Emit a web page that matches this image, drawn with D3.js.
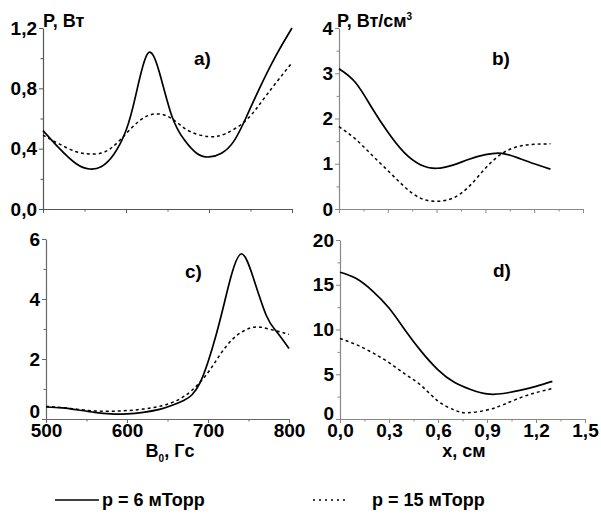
<!DOCTYPE html>
<html><head><meta charset="utf-8">
<script src="https://cdn.jsdelivr.net/npm/d3@7"></script>
<style>
body{margin:0;background:#fff}
svg text{font-family:"Liberation Sans",Arial,sans-serif;font-weight:bold;fill:#000}
</style>
</head><body><svg id="c" width="601" height="517"></svg>
<script>
// ---- Panel a: P (Вт) vs B0 (Гс)
const aSolidB = [500,520,540,556,570,585,600,612,626,640,655,670,685,700,715,730,745,760,780,800];
const aSolidP = [0.52,0.40,0.30,0.265,0.28,0.36,0.52,0.76,1.03,0.91,0.62,0.46,0.37,0.345,0.37,0.45,0.61,0.79,1.01,1.2];
const aDashB = [500,520,540,556,575,595,615,635,655,675,700,720,745,770,800];
const aDashP = [0.49,0.43,0.38,0.365,0.38,0.47,0.58,0.63,0.60,0.52,0.48,0.50,0.59,0.76,0.97];
// ---- Panel b: P (Вт/см3) vs x (см)
const bX = [0,0.1,0.2,0.3,0.4,0.5,0.6,0.7,0.8,0.9,1.0,1.1,1.2,1.3];
const bSolid = [3.1,2.8,2.25,1.7,1.25,0.98,0.90,0.97,1.10,1.20,1.23,1.13,1.0,0.88];
const bDash  = [1.82,1.55,1.2,0.85,0.50,0.24,0.17,0.24,0.50,0.90,1.22,1.38,1.43,1.44];
// ---- Panel c: P vs B0
const cSolidB = [500,520,540,560,580,600,620,640,655,670,680,690,700,710,720,730,742,756,772,785,800];
const cSolidP = [0.40,0.37,0.30,0.22,0.17,0.17,0.22,0.32,0.45,0.62,0.8,1.2,1.9,2.8,3.85,4.9,5.5,4.7,3.45,2.9,2.35];
const cDashB = [500,520,540,560,580,600,620,640,660,680,700,715,730,745,760,775,790,800];
const cDashP = [0.42,0.38,0.32,0.27,0.26,0.28,0.33,0.42,0.6,0.95,1.55,2.15,2.65,2.95,3.07,3.0,2.9,2.82];
// ---- Panel d: P vs x
const dSolidX = [0,0.1,0.2,0.3,0.4,0.5,0.6,0.7,0.8,0.9,1.0,1.1,1.2,1.3];
const dSolid  = [16.4,15.7,14.3,12.4,9.9,7.5,5.5,4.1,3.3,2.8,2.85,3.2,3.65,4.2];
const dDashX = [0,0.1,0.2,0.3,0.4,0.5,0.6,0.7,0.78,0.9,1.0,1.1,1.2,1.3];
const dDash  = [9.0,8.3,7.4,6.3,5.0,3.7,2.0,1.0,0.7,1.0,1.6,2.35,2.95,3.4];
// ---- ticks
const bTicksMajor = [500,600,700,800];
const bTicksMinor = [550,650,750];
const xTicksMajor = [0,0.3,0.6,0.9,1.2,1.5];
const xTicksMinor = [0.15,0.45,0.75,1.05,1.35];
const legendLabels = ["p = 6 мТорр","p = 15 мТорр"];

const svg = d3.select("#c");
const comma = f => d => d3.format(f)(d).replace(".", ",");

function panel(o){
  const x = d3.scaleLinear().domain(o.xd).range(o.xr);
  const y = d3.scaleLinear().domain(o.yd).range(o.yr);
  const g = svg.append("g");
  const majX = new Set(o.xMaj), majY = new Set(o.yMaj);
  const xa = d3.axisBottom(x).tickValues(o.xMaj.concat(o.xMin)).tickSize(4).tickSizeOuter(0).tickPadding(1)
    .tickFormat(d => o.showX && majX.has(d) ? o.xf(d) : "");
  const gx = g.append("g").attr("transform",`translate(0,${o.yr[0]})`).call(xa);
  const ya = d3.axisLeft(y).tickValues(o.yMaj.concat(o.yMin)).tickSize(4).tickSizeOuter(0).tickPadding(2)
    .tickFormat(d => majY.has(d) ? o.yf(d) : "");
  const gy = g.append("g").attr("transform",`translate(${o.xr[0]},0)`).call(ya);
  [gx,gy].forEach(ax=>{
    ax.attr("font-family",null).attr("font-size",null);
    ax.select(".domain").attr("stroke",o.ac).attr("stroke-width",1.2);
    ax.selectAll(".tick line").attr("stroke",o.ac).attr("stroke-width",1);
    ax.selectAll(".tick text").style("font-size","19px");
  });
  gx.selectAll(".tick").filter(d=>!majX.has(d)).select("line").attr("y2",2.5);
  gy.selectAll(".tick").filter(d=>!majY.has(d)).select("line").attr("x2",-2.5);
  if (o.showX) gy.selectAll(".tick").filter(d=>d===0).select("text").attr("y",o.zeroShift);
  const line = d3.line().x(d=>x(d[0])).y(d=>y(d[1])).curve(d3.curveNatural);
  g.append("path").datum(d3.zip(o.sx,o.sy)).attr("d",line)
    .attr("fill","none").attr("stroke","#000").attr("stroke-width",1.7);
  g.append("path").datum(d3.zip(o.dx,o.dy)).attr("d",line)
    .attr("fill","none").attr("stroke","#000").attr("stroke-width",1.5).attr("stroke-dasharray","3,3");
  g.append("text").attr("x",o.lab[1]).attr("y",o.lab[2]).style("font-size","19px").text(o.lab[0]);
  return {x,y,g};
}

panel({xd:[500,800],xr:[43,292],yd:[0,1.2],yr:[209,28],xMaj:bTicksMajor,xMin:bTicksMinor,
  yMaj:[0,0.4,0.8,1.2],yMin:[0.2,0.6,1.0],xf:d3.format("d"),yf:comma(".1f"),showX:false,ac:"#555",
  sx:aSolidB,sy:aSolidP,dx:aDashB,dy:aDashP,lab:["a)",194,65]});
panel({xd:[0,1.5],xr:[339,583],yd:[0,4],yr:[209,28],xMaj:xTicksMajor,xMin:xTicksMinor,
  yMaj:[0,1,2,3,4],yMin:[0.5,1.5,2.5,3.5],xf:comma(".1f"),yf:d3.format("d"),showX:false,ac:"#888",
  sx:bX,sy:bSolid,dx:bX,dy:bDash,lab:["b)",492,65]});
panel({xd:[500,800],xr:[46,289],yd:[0,6],yr:[419,239],xMaj:bTicksMajor,xMin:bTicksMinor,
  yMaj:[0,2,4,6],yMin:[1,3,5],xf:d3.format("d"),yf:d3.format("d"),showX:true,ac:"#666",zeroShift:-8,
  sx:cSolidB,sy:cSolidP,dx:cDashB,dy:cDashP,lab:["c)",185,278]});
panel({xd:[0,1.5],xr:[340,585],yd:[0,20],yr:[419,240],xMaj:xTicksMajor,xMin:xTicksMinor,
  yMaj:[0,5,10,15,20],yMin:[2.5,7.5,12.5,17.5],xf:comma(".1f"),yf:d3.format("d"),showX:true,ac:"#888",zeroShift:-6,
  sx:dSolidX,sy:dSolid,dx:dDashX,dy:dDash,lab:["d)",493,277]});

// axis titles
svg.append("text").attr("x",43).attr("y",27).style("font-size","18px").text("P, Вт");
const tb = svg.append("text").attr("x",337).attr("y",27).style("font-size","18px");
tb.append("tspan").text("P, Вт/см");
tb.append("tspan").attr("dy",-7).style("font-size","10px").text("3");
const tx = svg.append("text").attr("x",170).attr("y",457).attr("text-anchor","middle").style("font-size","18px");
tx.append("tspan").text("B");
tx.append("tspan").attr("dy",5).style("font-size","10px").text("0");
tx.append("tspan").attr("dy",-5).text(", Гс");
svg.append("text").attr("x",464).attr("y",457).attr("text-anchor","middle").style("font-size","18px").text("x, см");

// legend
const leg = [{x1:55,x2:99,tx:102,dash:null,w:1.7},{x1:313,x2:348,tx:372,dash:"2,4",w:1.3}];
leg.forEach((l,i)=>{
  svg.append("line").attr("x1",l.x1).attr("x2",l.x2).attr("y1",500).attr("y2",500)
    .attr("stroke","#000").attr("stroke-width",l.w).attr("stroke-dasharray",l.dash);
  svg.append("text").attr("x",l.tx).attr("y",506).style("font-size","18px").text(legendLabels[i]);
});
</script>
</body></html>
